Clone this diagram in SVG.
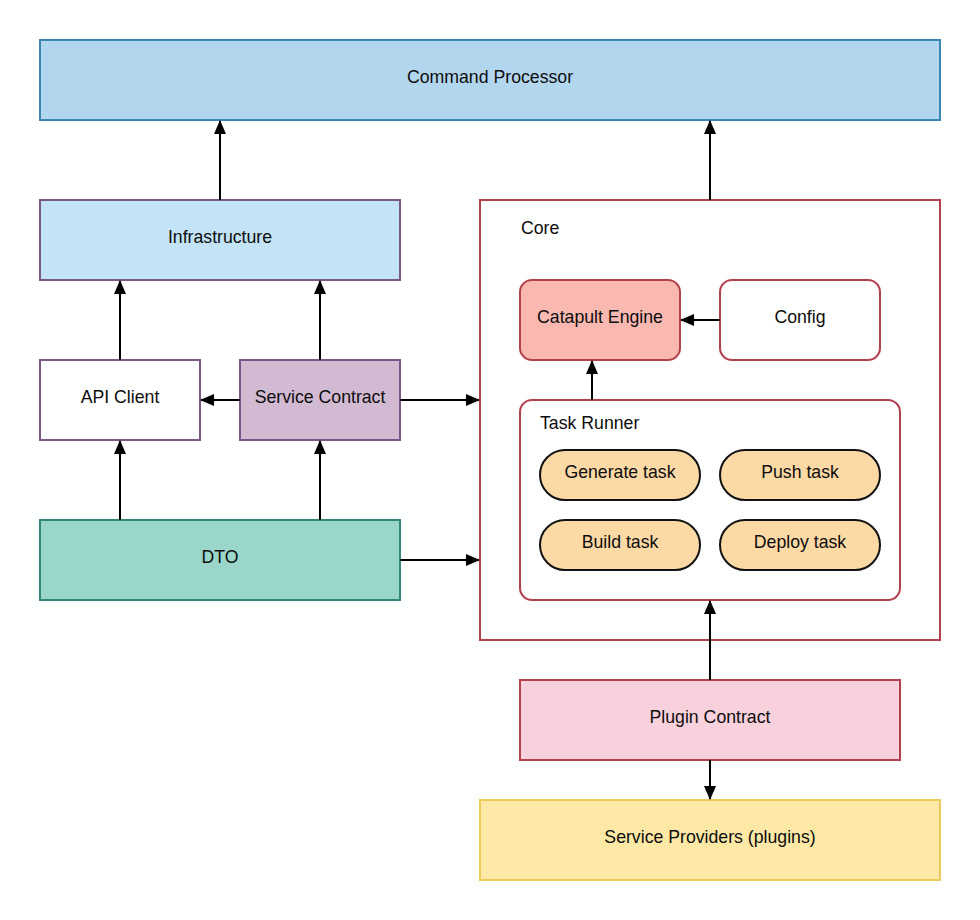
<svg xmlns="http://www.w3.org/2000/svg" width="980" height="920" viewBox="0 0 980 920">
<defs>
<marker id="ah" viewBox="0 0 14 12" refX="13" refY="6" markerWidth="14" markerHeight="12" markerUnits="userSpaceOnUse" orient="auto">
<path d="M0,0 L14,6 L0,12 Z" fill="#000"/>
</marker>
<style>
text{font-family:"Liberation Sans",Arial,sans-serif;font-size:17.7px;fill:#0d0d0d;}
.c{text-anchor:middle;dominant-baseline:central;}
.e{stroke:#000;stroke-width:2;fill:none;marker-end:url(#ah);}
.task{fill:#fdd9a6;stroke:#111;stroke-width:2;}
.red{stroke:#b2414c;stroke-width:2;}
.pur{stroke:#775a88;stroke-width:2;}
</style>
</defs>
<rect width="980" height="920" fill="#fff"/>
<g id="command-processor"><rect x="40" y="40" width="900" height="80" fill="#b3d6ef" stroke="#3a86b4" stroke-width="2"/><text class="c" x="490" y="77">Command Processor</text></g>
<g id="infrastructure"><rect class="pur" x="40" y="200" width="360" height="80" fill="#c3e4f7"/><text class="c" x="220" y="237">Infrastructure</text></g>
<g id="api-client"><rect class="pur" x="40" y="360" width="160" height="80" fill="#fff"/><text class="c" x="120" y="397">API Client</text></g>
<g id="service-contract"><rect class="pur" x="240" y="360" width="160" height="80" fill="#d2bad3"/><text class="c" x="320" y="397">Service Contract</text></g>
<g id="dto"><rect x="40" y="520" width="360" height="80" fill="#9bd6cb" stroke="#2f8a7a" stroke-width="2"/><text class="c" x="220" y="557">DTO</text></g>
<g id="core"><rect class="red" x="480" y="200" width="460" height="440" fill="#fff"/><text x="521" y="234">Core</text></g>
<g id="catapult-engine"><rect class="red" x="520" y="280" width="160" height="80" rx="12" fill="#f9b9b1"/><text class="c" x="600" y="317">Catapult Engine</text></g>
<g id="config"><rect class="red" x="720" y="280" width="160" height="80" rx="12" fill="#fff"/><text class="c" x="800" y="317">Config</text></g>
<g id="task-runner"><rect class="red" x="520" y="400" width="380" height="200" rx="12" fill="#fff"/><text x="540" y="429">Task Runner</text></g>
<g id="generate-task"><rect class="task" x="540" y="450" width="160" height="50" rx="25"/><text class="c" x="620" y="472">Generate task</text></g>
<g id="push-task"><rect class="task" x="720" y="450" width="160" height="50" rx="25"/><text class="c" x="800" y="472">Push task</text></g>
<g id="build-task"><rect class="task" x="540" y="520" width="160" height="50" rx="25"/><text class="c" x="620" y="542">Build task</text></g>
<g id="deploy-task"><rect class="task" x="720" y="520" width="160" height="50" rx="25"/><text class="c" x="800" y="542">Deploy task</text></g>
<g id="plugin-contract"><rect class="red" x="520" y="680" width="380" height="80" fill="#f9d1dc"/><text class="c" x="710" y="717">Plugin Contract</text></g>
<g id="service-providers"><rect x="480" y="800" width="460" height="80" fill="#fee8a6" stroke="#ebcb5c" stroke-width="2"/><text class="c" x="710" y="837">Service Providers (plugins)</text></g>
<g id="connectors">
<path class="e" d="M220,200 L220,121"/>
<path class="e" d="M710,200 L710,121"/>
<path class="e" d="M120,360 L120,281"/>
<path class="e" d="M320,360 L320,281"/>
<path class="e" d="M240,400 L201,400"/>
<path class="e" d="M400,400 L479,400"/>
<path class="e" d="M120,520 L120,441"/>
<path class="e" d="M320,520 L320,441"/>
<path class="e" d="M400,560 L479,560"/>
<path class="e" d="M720,320 L681,320"/>
<path class="e" d="M592,400 L592,361"/>
<path class="e" d="M710,680 L710,601"/>
<path class="e" d="M710,760 L710,799"/>
</g>
</svg>
